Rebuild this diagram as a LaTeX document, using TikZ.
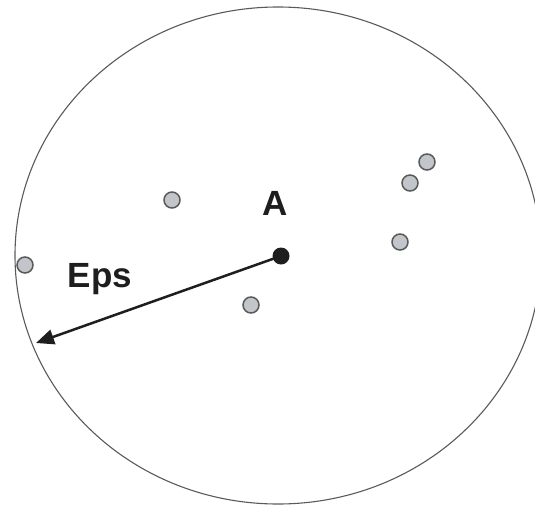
\documentclass[tikz,border=0pt]{standalone}
\usepackage{fontspec}
\setmainfont{Liberation Sans}
\usetikzlibrary{arrows.meta}
\definecolor{dotfill}{HTML}{C2C5C9}
\definecolor{dotedge}{HTML}{5A5A5A}
\definecolor{inkc}{HTML}{1E1E1E}
\tikzset{
  pt/.style={circle, fill=dotfill, draw=dotedge, line width=1.5pt, minimum size=16pt, inner sep=0pt},
  core/.style={circle, fill=inkc, minimum size=17pt, inner sep=0pt},
  lbl/.style={font=\fontsize{35}{40}\selectfont\bfseries, text=inkc, inner sep=0pt},
}
\begin{document}
\begin{tikzpicture}[x=1pt,y=-1pt]
\useasboundingbox (0,0) rectangle (535,506);
\draw[draw=dotedge, line width=1.1pt] (278,255.5) ellipse [x radius=263, y radius=248.5];
\node[pt] (p1) at (172,200) {};
\node[pt] (p2) at (427,162) {};
\node[pt] (p3) at (410,183) {};
\node[pt] (p4) at (400,242) {};
\node[pt] (p5) at (251,305) {};
\node[pt] (p6) at (25,265) {};
\node[core] (A) at (281,256) {};
\coordinate (tip) at (36,343);
\draw[inkc, line width=2.5pt, -{Triangle[length=18pt,width=15pt]}] (A.center) -- (tip);
\node[lbl, anchor=base] (la) at (275.5,215) {A};
\node[lbl, anchor=base west] (le) at (67.5,287) {Eps};
\end{tikzpicture}
\end{document}
